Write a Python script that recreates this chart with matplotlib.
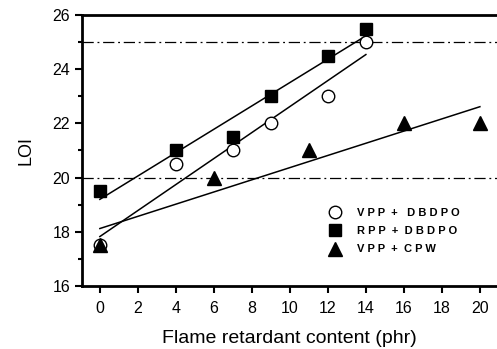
import numpy as np
import matplotlib
matplotlib.use("Agg")
import matplotlib.pyplot as plt
from matplotlib.ticker import MultipleLocator

plt.rcParams['font.family'] = ['Liberation Sans', 'DejaVu Sans']

vpp_dbdpo_x = [0, 4, 7, 9, 12, 14]
vpp_dbdpo_y = [17.5, 20.5, 21, 22, 23, 25]
rpp_dbdpo_x = [0, 4, 7, 9, 12, 14]
rpp_dbdpo_y = [19.5, 21, 21.5, 23, 24.5, 25.5]
vpp_cpw_x = [0, 6, 11, 16, 20]
vpp_cpw_y = [17.5, 20, 21, 22, 22]
ref_levels = [20, 25]
labels = ["V P P  +   D B D P O", "R P P  +  D B D P O", "V P P  +  C P W"]

fig = plt.figure(figsize=(4.97, 3.49), dpi=100)
ax = fig.add_axes([0.165, 0.181, 0.835, 0.776])

for lv in ref_levels:
    ax.axhline(lv, color='black', lw=0.9, ls=(0, (9, 3, 1.5, 3)))

series = [
    (vpp_dbdpo_x, vpp_dbdpo_y, dict(marker='o', mfc='white', mec='black', ms=9, mew=1.0)),
    (rpp_dbdpo_x, rpp_dbdpo_y, dict(marker='s', mfc='black', mec='black', ms=8.5)),
    (vpp_cpw_x, vpp_cpw_y, dict(marker='^', mfc='black', mec='black', ms=9.5)),
]
handles = []
for (xs, ys, st), lab in zip(series, labels):
    xs = np.array(xs, float); ys = np.array(ys, float)
    k, b = np.polyfit(xs, ys, 1)
    xx = np.array([xs.min(), xs.max()])
    ax.plot(xx, k * xx + b, color='black', lw=1.1, zorder=2)
    h, = ax.plot(xs, ys, ls='none', zorder=3, label=lab, **st)
    handles.append(h)

ax.set_xlim(-0.94, 20.9)
ax.set_ylim(16, 26)
ax.xaxis.set_major_locator(MultipleLocator(2))
ax.yaxis.set_major_locator(MultipleLocator(2))
ax.yaxis.set_minor_locator(MultipleLocator(1))
ax.tick_params(which='both', direction='out', width=1.5, labelsize=11.5)
ax.tick_params(which='major', length=5)
ax.tick_params(which='minor', length=3)
ax.tick_params(axis='x', pad=6)
for s in ['left', 'bottom', 'top']:
    ax.spines[s].set_linewidth(2)
ax.spines['right'].set_visible(False)

ax.set_xlabel("Flame retardant content (phr)", fontsize=14, labelpad=10)
ax.set_ylabel("LOI", fontsize=13, labelpad=13)

leg = ax.legend(handles=handles, loc='upper left', bbox_to_anchor=(0.57, 0.325),
                frameon=False, prop=dict(size=8, weight='bold'),
                handletextpad=1.4, labelspacing=0.75, handlelength=1.2)

fig.savefig("out.png", dpi=100)
